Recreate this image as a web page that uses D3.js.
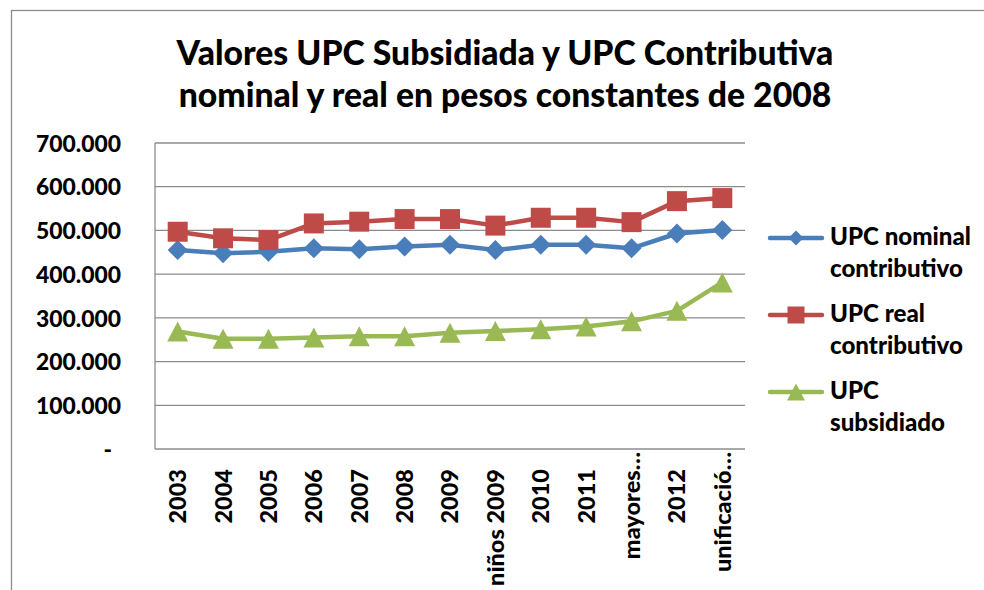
<!DOCTYPE html>
<html>
<head>
<meta charset="utf-8">
<script src="https://cdn.jsdelivr.net/npm/d3@7"></script>
<style>
  html, body { margin: 0; padding: 0; background: #fff; }
  svg { display: block; }
  text { font-family: Lato, "Open Sans", sans-serif; font-weight: 900; fill: #000; }
</style>
</head>
<body>
<svg id="chart" width="984" height="590"></svg>
<script>
// ---- data ----
const titleLines = ["Valores UPC Subsidiada y UPC Contributiva", "nominal y real en pesos constantes de 2008"];
const categories = ["2003", "2004", "2005", "2006", "2007", "2008", "2009", "niños 2009", "2010", "2011", "mayores…", "2012", "unificació…"];
const nominalContributivo = [455000, 448000, 451000, 459000, 457000, 463000, 467000, 455000, 467000, 467000, 459000, 493000, 501000];
const realContributivo    = [497000, 482000, 478000, 516000, 520000, 526000, 526000, 511000, 529000, 529000, 519000, 567000, 574000];
const subsidiado          = [269000, 252000, 252000, 255000, 258000, 258000, 266000, 270000, 274000, 280000, 292000, 316000, 381000];
const yTicks = [0, 100000, 200000, 300000, 400000, 500000, 600000, 700000];
const seriesNames = [["UPC nominal", "contributivo"], ["UPC real", "contributivo"], ["UPC", "subsidiado"]];

const series = [
  { name: seriesNames[0], values: nominalContributivo, color: "#4A7EBB", marker: "diamond" },
  { name: seriesNames[1], values: realContributivo,    color: "#BE4B48", marker: "square" },
  { name: seriesNames[2], values: subsidiado,          color: "#98B954", marker: "triangle" }
];

const svg = d3.select("#chart");

// helper: find font size so that sample text has target width
function fitSize(sample, target) {
  const t = svg.append("text").attr("font-size", 100).text(sample);
  const w = t.node().getComputedTextLength();
  t.remove();
  return 100 * target / w;
}

// outer chart border
svg.append("rect")
  .attr("x", 11.5).attr("y", 10.5)
  .attr("width", 1200).attr("height", 1200)
  .attr("fill", "none").attr("stroke", "#8c8c8c").attr("stroke-width", 1.3);

// plot area
const plot = { left: 155, right: 745, top: 143, bottom: 449 };

const x = d3.scaleBand().domain(categories).range([plot.left, plot.right]);
const y = d3.scaleLinear().domain([0, 700000]).range([plot.bottom, plot.top]);

// title
const titleSize = fitSize(titleLines[0], 657);
svg.append("text")
  .attr("x", 505).attr("text-anchor", "middle")
  .attr("font-size", titleSize)
  .selectAll("tspan").data(titleLines).join("tspan")
  .attr("x", 505)
  .attr("y", (d, i) => 65 + i * 42)
  .text(d => d);

// gridlines
svg.append("g").selectAll("line").data(yTicks.filter(d => d > 0)).join("line")
  .attr("x1", plot.left).attr("x2", plot.right)
  .attr("y1", d => y(d)).attr("y2", d => y(d))
  .attr("stroke", "#8c8c8c").attr("stroke-width", 1.3);

// axes lines (left and bottom border)
svg.append("line")
  .attr("x1", plot.left).attr("x2", plot.left)
  .attr("y1", plot.top).attr("y2", plot.bottom)
  .attr("stroke", "#8c8c8c").attr("stroke-width", 1.3);
svg.append("line")
  .attr("x1", plot.left).attr("x2", plot.right)
  .attr("y1", plot.bottom).attr("y2", plot.bottom)
  .attr("stroke", "#8c8c8c").attr("stroke-width", 1.3);

// y axis labels
const locale = d3.formatLocale({ decimal: ",", thousands: ".", grouping: [3], currency: ["", ""] });
const fmt = locale.format(",");
const axisSize = fitSize("700.000", 85);
const yAxis = d3.axisLeft(y).tickValues(yTicks).tickSize(0).tickPadding(0)
  .tickFormat(d => d === 0 ? "-" : fmt(d));
const yg = svg.append("g").attr("transform", `translate(121,0)`).call(yAxis);
yg.select(".domain").remove();
yg.selectAll("text")
  .attr("font-size", axisSize)
  .attr("font-family", "Lato, 'Open Sans', sans-serif")
  .attr("font-weight", 900)
  .attr("fill", "#000")
  .attr("dy", "0.36em")
  .attr("dx", d => d === 0 ? -9 : 0);

// x axis labels (rotated)
const xSize = fitSize("niños 2009", 117);
const xAxis = d3.axisBottom(x).tickSize(0).tickPadding(0);
const xg = svg.append("g").attr("transform", `translate(0,${plot.bottom})`).call(xAxis);
xg.select(".domain").remove();
xg.selectAll("text")
  .attr("font-size", xSize)
  .attr("font-family", "Lato, 'Open Sans', sans-serif")
  .attr("font-weight", 900)
  .attr("fill", "#000")
  .attr("text-anchor", "end")
  .attr("dy", "0.36em")
  .attr("transform", d => `translate(0,${d.endsWith("…") ? 3 : 20}) rotate(-90)`)
  .attr("y", 0).attr("x", 0);

// marker path generators (bounding box centered)
function markerPath(type, s) {
  const h = s / 2;
  if (type === "diamond") return `M0,${-h}L${h},0L0,${h}L${-h},0Z`;
  if (type === "square") return `M${-h},${-h}H${h}V${h}H${-h}Z`;
  return `M0,${-h}L${h * 1.05},${h}L${-h * 1.05},${h}Z`;
}

const line = d3.line().x((d, i) => x(categories[i]) + x.bandwidth() / 2).y(d => y(d));

const sg = svg.append("g").selectAll("g").data(series).join("g");
sg.append("path")
  .attr("d", d => line(d.values))
  .attr("fill", "none").attr("stroke", d => d.color)
  .attr("stroke-width", 4.5).attr("stroke-linejoin", "round").attr("stroke-linecap", "round");
sg.each(function (s) {
  d3.select(this).selectAll("path.m").data(s.values).join("path")
    .attr("class", "m")
    .attr("transform", (d, i) => `translate(${x(categories[i]) + x.bandwidth() / 2},${y(d)})`)
    .attr("d", markerPath(s.marker, 20))
    .attr("fill", s.color);
});

// legend
const legSize = fitSize("UPC nominal", 141);
const leg = svg.append("g").selectAll("g").data(series).join("g")
  .attr("transform", (d, i) => `translate(0,${238 + i * 77})`);
leg.append("line")
  .attr("x1", 770).attr("x2", 822).attr("y1", 0).attr("y2", 0)
  .attr("stroke", d => d.color).attr("stroke-width", 4.5).attr("stroke-linecap", "round");
leg.append("path")
  .attr("transform", "translate(796,0)")
  .attr("d", d => markerPath(d.marker, d.marker === "diamond" ? 15 : 17))
  .attr("fill", d => d.color);
leg.append("text")
  .attr("font-size", legSize)
  .selectAll("tspan").data(d => d.name).join("tspan")
  .attr("x", 830)
  .attr("y", (d, i) => 7 + i * 32)
  .text(d => d);
</script>
</body>
</html>
